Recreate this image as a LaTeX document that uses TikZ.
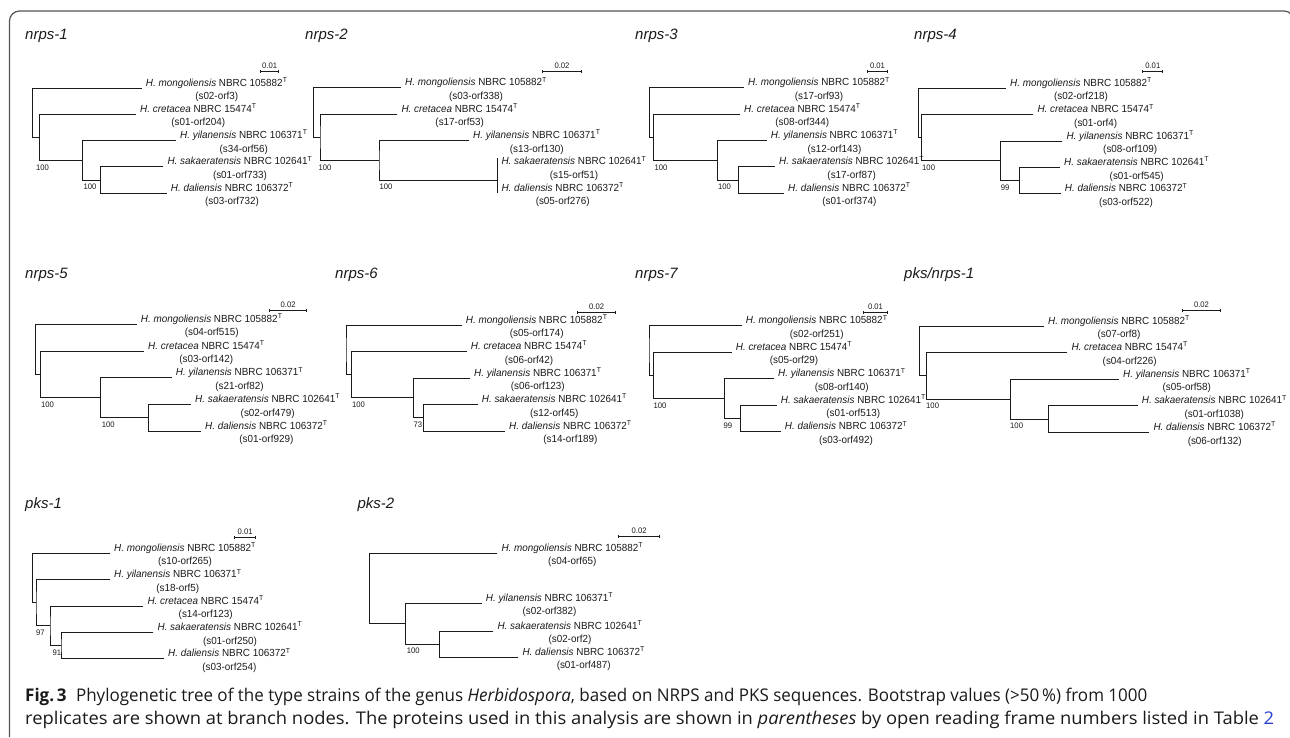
\documentclass[tikz,border=0pt]{standalone}
\usepackage{fontspec}
\usepackage{graphicx}
\setmainfont{Liberation Sans}
\newfontfamily\treefont[FakeStretch=0.96]{Liberation Sans}
\newfontfamily\capfont{Open Sans}
\usetikzlibrary{calc,arrows.meta}
\definecolor{ink}{HTML}{1A1A1A}
\definecolor{framec}{HTML}{555555}
\definecolor{linkblue}{HTML}{2A3FD0}
\newcommand\spp[2]{\textit{H. #1} NBRC #2\textsuperscript{T}}
\newcommand\mon{\spp{mongoliensis}{105882}}
\newcommand\cre{\spp{cretacea}{15474}}
\newcommand\yil{\spp{yilanensis}{106371}}
\newcommand\sak{\spp{sakaeratensis}{102641}}
\newcommand\dal{\spp{daliensis}{106372}}
% leaf label: coordinate name, species, orf
\newcommand\leaf[3]{%
  \node[sp, anchor=base west] (#1l) at ($(#1)+(4,-2)$) {#2};
  \node[orf, anchor=base] (#1o) at ($(#1l.base)+(0,13.6)$) {(#3)};
}
\newcommand\panelhead[3]{% prefix, x, y (title)
  \node[ttl, anchor=base west] (#1-t) at (#2,#3) {\textit{\TT}};
  \coordinate (#1-sa) at (\SA,\SY);
  \coordinate (#1-sb) at (\SB,\SY);
  \draw[sbar] (#1-sa) -- (#1-sb);
  \node[bs, anchor=base] (#1-sl) at ({(\SA+\SB)/2},\SY-3) {\SL};
}
\newcommand\drawfive{%
  \pgfmathsetmacro\ya{\Y}\pgfmathsetmacro\yb{\Y+\D}\pgfmathsetmacro\yc{\Y+2*\D}%
  \pgfmathsetmacro\yd{\Y+3*\D}\pgfmathsetmacro\ye{\Y+4*\D}%
  \pgfmathsetmacro\ync{(\yd+\ye)/2}\pgfmathsetmacro\ynb{(\yc+\ync)/2}%
  \pgfmathsetmacro\yna{(\yb+\ynb)/2}\pgfmathsetmacro\ynr{(\ya+\yna)/2}%
  \coordinate (\P-r) at (\R,\ynr);
  \coordinate (\P-a) at (\A,\yna);
  \coordinate (\P-b) at (\B,\ynb);
  \coordinate (\P-c) at (\C,\ync);
  \coordinate (\P1) at (\TA,\ya);
  \coordinate (\P2) at (\TB,\yb);
  \coordinate (\P3) at (\TC,\yc);
  \coordinate (\P4) at (\TD,\yd);
  \coordinate (\P5) at (\TE,\ye);
  \draw[br] (\P1) -| (\P-r) |- (\P-a);
  \draw[br] (\P2) -| (\P-a) |- (\P-b);
  \draw[br] (\P3) -| (\P-b) |- (\P-c);
  \draw[br] (\P4) -| (\P-c) |- (\P5);
  \node[bs, anchor=west] (\P-ba) at (\XA,\ynb+7) {\BA};
  \node[bs, anchor=west] (\P-bb) at (\XB,\ync+7) {\BB};
}
\begin{document}
\begin{tikzpicture}[x=1pt,y=-1pt,
  br/.style={draw=ink, line width=0.95pt},
  sbar/.style={draw=ink, line width=0.9pt, {Bar[width=3pt]}-{Bar[width=3pt]}},
  sp/.style={inner sep=0pt, text=ink, font=\treefont\fontsize{10.3}{12}\selectfont},
  orf/.style={inner sep=0pt, text=ink, font=\treefont\fontsize{10.3}{12}\selectfont},
  bs/.style={inner sep=0pt, text=ink, font=\treefont\fontsize{8}{10}\selectfont},
  ttl/.style={inner sep=0pt, text=ink, font=\fontsize{15}{17}\selectfont},
  captext/.style={inner sep=0pt, text=ink, font=\capfont\fontsize{17.5}{20}\selectfont}]
\useasboundingbox (0,0) rectangle (1290,737);
% frame
\draw[framec, line width=1.2pt, rounded corners=10pt] (9.5,737) -- (9.5,11) -- (1294,11) -- (1294,737);

% ---------- nrps-1
\def\P{A}\def\TT{nrps-1}\def\SA{260}\def\SB{279.3}\def\SY{71.3}\def\SL{0.01}
\panelhead{A}{25}{39.3}
\def\Y{88}\def\D{26.3}\def\R{32.7}\def\A{39.3}\def\B{82.3}\def\C{100.7}
\def\TA{141.7}\def\TB{136}\def\TC{176}\def\TD{163.3}\def\TE{166.7}
\def\BA{100}\def\XA{36}\def\BB{100}\def\XB{83.3}
\drawfive
\leaf{A1}{\mon}{s02-orf3}\leaf{A2}{\cre}{s01-orf204}\leaf{A3}{\yil}{s34-orf56}
\leaf{A4}{\sak}{s01-orf733}\leaf{A5}{\dal}{s03-orf732}

% ---------- nrps-2
\def\P{B}\def\TT{nrps-2}\def\SA{542.3}\def\SB{581.7}\def\SY{71.3}\def\SL{0.02}
\panelhead{B}{305}{39.3}
\def\Y{87.7}\def\D{26.4}\def\R{313.3}\def\A{320}\def\B{379}\def\C{497.3}
\def\TA{401}\def\TB{397.3}\def\TC{469}\def\TD{497.3}\def\TE{497.3}
\def\BA{100}\def\XA{318.3}\def\BB{100}\def\XB{379.3}
\drawfive
\draw[br] (B4) -- ++(0,-9);
\leaf{B1}{\mon}{s03-orf338}\leaf{B2}{\cre}{s17-orf53}\leaf{B3}{\yil}{s13-orf130}
\leaf{B4}{\sak}{s15-orf51}\leaf{B5}{\dal}{s05-orf276}

% ---------- nrps-3
\def\P{C}\def\TT{nrps-3}\def\SA{866.7}\def\SB{888.3}\def\SY{71.3}\def\SL{0.01}
\panelhead{C}{635}{39.3}
\def\Y{87.7}\def\D{26.4}\def\R{649.3}\def\A{653.3}\def\B{717.3}\def\C{738.3}
\def\TA{744}\def\TB{740}\def\TC{766.7}\def\TD{775}\def\TE{784}
\def\BA{100}\def\XA{654.3}\def\BB{100}\def\XB{718}
\drawfive
\leaf{C1}{\mon}{s17-orf93}\leaf{C2}{\cre}{s08-orf344}\leaf{C3}{\yil}{s12-orf143}
\leaf{C4}{\sak}{s17-orf87}\leaf{C5}{\dal}{s01-orf374}

% ---------- nrps-4
\def\P{D}\def\TT{nrps-4}\def\SA{1142.3}\def\SB{1163.3}\def\SY{71.3}\def\SL{0.01}
\panelhead{D}{914}{39.3}
\def\Y{88.3}\def\D{26.4}\def\R{918.3}\def\A{921.7}\def\B{1000.7}\def\C{1019}
\def\TA{1006}\def\TB{1033.3}\def\TC{1062.3}\def\TD{1060}\def\TE{1060.7}
\def\BA{100}\def\XA{922}\def\BB{99}\def\XB{1000.7}
\drawfive
\leaf{D1}{\mon}{s02-orf218}\leaf{D2}{\cre}{s01-orf4}\leaf{D3}{\yil}{s08-orf109}
\leaf{D4}{\sak}{s01-orf545}\leaf{D5}{\dal}{s03-orf522}

% ---------- nrps-5
\def\P{E}\def\TT{nrps-5}\def\SA{269}\def\SB{307.3}\def\SY{310}\def\SL{0.02}
\panelhead{E}{25}{278.5}
\def\Y{324.3}\def\D{26.7}\def\R{35.7}\def\A{40.7}\def\B{100.7}\def\C{148.3}
\def\TA{136.7}\def\TB{144}\def\TC{171.7}\def\TD{191}\def\TE{201}
\def\BA{100}\def\XA{41}\def\BB{100}\def\XB{101.7}
\drawfive
\leaf{E1}{\mon}{s04-orf515}\leaf{E2}{\cre}{s03-orf142}\leaf{E3}{\yil}{s21-orf82}
\leaf{E4}{\sak}{s02-orf479}\leaf{E5}{\dal}{s01-orf929}

% ---------- nrps-6
\def\P{F}\def\TT{nrps-6}\def\SA{577.3}\def\SB{616}\def\SY{312.3}\def\SL{0.02}
\panelhead{F}{335}{278.5}
\def\Y{325}\def\D{26.5}\def\R{346}\def\A{351.7}\def\B{413.3}\def\C{423.3}
\def\TA{461.7}\def\TB{466.7}\def\TC{470}\def\TD{477.7}\def\TE{505}
\def\BA{100}\def\XA{352}\def\BB{73}\def\XB{413.3}
\drawfive
\leaf{F1}{\mon}{s05-orf174}\leaf{F2}{\cre}{s06-orf42}\leaf{F3}{\yil}{s06-orf123}
\leaf{F4}{\sak}{s12-orf45}\leaf{F5}{\dal}{s14-orf189}

% ---------- nrps-7
\def\P{G}\def\TT{nrps-7}\def\SA{863.3}\def\SB{887.7}\def\SY{312.3}\def\SL{0.01}
\panelhead{G}{635}{278.5}
\def\Y{325.7}\def\D{26.5}\def\R{649}\def\A{653.3}\def\B{724.3}\def\C{740.7}
\def\TA{741.7}\def\TB{731.7}\def\TC{774}\def\TD{776.7}\def\TE{780.7}
\def\BA{100}\def\XA{653.3}\def\BB{99}\def\XB{723.3}
\drawfive
\leaf{G1}{\mon}{s02-orf251}\leaf{G2}{\cre}{s05-orf29}\leaf{G3}{\yil}{s08-orf140}
\leaf{G4}{\sak}{s01-orf513}\leaf{G5}{\dal}{s03-orf492}

% ---------- pks/nrps-1
\def\P{H}\def\TT{pks/nrps-1}\def\SA{1182.3}\def\SB{1220.7}\def\SY{310}\def\SL{0.02}
\panelhead{H}{904}{278.5}
\def\Y{326}\def\D{26.6}\def\R{919}\def\A{926}\def\B{1010}\def\C{1048.3}
\def\TA{1044}\def\TB{1067.3}\def\TC{1119}\def\TD{1137.7}\def\TE{1149.3}
\def\BA{100}\def\XA{926}\def\BB{100}\def\XB{1010}
\drawfive
\leaf{H1}{\mon}{s07-orf8}\leaf{H2}{\cre}{s04-orf226}\leaf{H3}{\yil}{s05-orf58}
\leaf{H4}{\sak}{s01-orf1038}\leaf{H5}{\dal}{s06-orf132}

% ---------- pks-1
\def\P{I}\def\TT{pks-1}\def\SA{234.3}\def\SB{256}\def\SY{537.7}\def\SL{0.01}
\panelhead{I}{25}{508}
\def\Y{553.3}\def\D{26.4}\def\R{32.3}\def\A{36}\def\B{50}\def\C{61}
\def\TA{110}\def\TB{110}\def\TC{143.3}\def\TD{153.3}\def\TE{164}
\def\BA{97}\def\XA{36}\def\BB{91}\def\XB{52.3}
\drawfive
\leaf{I1}{\mon}{s10-orf265}\leaf{I2}{\yil}{s18-orf5}\leaf{I3}{\cre}{s14-orf123}
\leaf{I4}{\sak}{s01-orf250}\leaf{I5}{\dal}{s03-orf254}

% ---------- pks-2
\def\TT{pks-2}\def\SA{618.3}\def\SB{660}\def\SY{536}\def\SL{0.02}
\panelhead{J}{357.3}{508}
\coordinate (J1) at (497.3,553.3);
\coordinate (J2) at (481.7,603.3);
\coordinate (J3) at (493.3,631);
\coordinate (J4) at (518.3,657.3);
\coordinate (J-b) at (439.3,644.15);
\coordinate (J-a) at (405.7,623.7);
\coordinate (J-r) at (369.3,588.5);
\draw[br] (J1) -| (J-r) |- (J-a);
\draw[br] (J2) -| (J-a) |- (J-b);
\draw[br] (J3) -| (J-b) |- (J4);
\node[bs, anchor=west] (J-bb) at (406.7,651) {100};
\leaf{J1}{\mon}{s04-orf65}\leaf{J2}{\yil}{s02-orf382}
\leaf{J3}{\sak}{s02-orf2}\leaf{J4}{\dal}{s01-orf487}

% ---------- caption
\node[captext, anchor=base west] (cap1) at (25,701)
  {\resizebox{1122pt}{\height}{\textbf{Fig.\,3}\hspace{0.55em}Phylogenetic tree of the type strains of the genus \textit{Herbidospora}, based on NRPS and PKS sequences. Bootstrap values (>50\,\%) from 1000}};
\node[captext, anchor=base west] (cap2) at (25,724)
  {\resizebox{1249pt}{\height}{replicates are shown at branch nodes. The proteins used in this analysis are shown in \textit{parentheses} by open reading frame numbers listed in Table \textcolor{linkblue}{2}}};
\end{tikzpicture}
\end{document}
